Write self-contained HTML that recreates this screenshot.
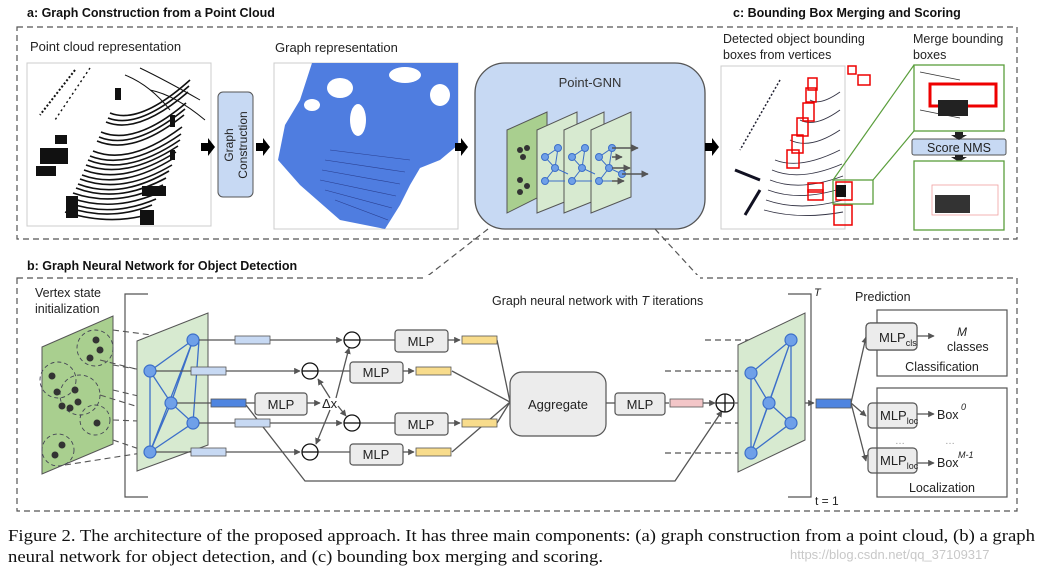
<!DOCTYPE html>
<html><head><meta charset="utf-8"><style>
html,body{margin:0;padding:0;background:#fff;}
svg{display:block;font-family:"Liberation Sans",Arial,sans-serif;}
</style></head><body>
<svg width="1041" height="574" viewBox="0 0 1041 574" xmlns="http://www.w3.org/2000/svg">
<defs>
<marker id="ah" viewBox="0 0 10 10" refX="9" refY="5" markerWidth="5" markerHeight="5" orient="auto"><path d="M0,0 L10,5 L0,10 z" fill="#555"/></marker>
</defs>
<!-- titles -->
<text x="27" y="17" font-size="12.5" font-weight="bold" fill="#111">a: Graph Construction from a Point Cloud</text>
<text x="733" y="17" font-size="12.5" font-weight="bold" fill="#111">c: Bounding Box Merging and Scoring</text>
<text x="27" y="270" font-size="12.5" font-weight="bold" fill="#111">b: Graph Neural Network for Object Detection</text>
<!-- top dashed box -->
<rect x="17" y="27" width="1000" height="212" fill="none" stroke="#555" stroke-width="1.2" stroke-dasharray="6,4"/>
<!-- bottom dashed box -->
<rect x="17" y="278" width="1000" height="233" fill="none" stroke="#555" stroke-width="1.2" stroke-dasharray="6,4"/>
<line x1="488" y1="229" x2="425" y2="278" stroke="#555" stroke-width="1.2" stroke-dasharray="6,4"/>
<line x1="655" y1="229" x2="700" y2="278" stroke="#555" stroke-width="1.2" stroke-dasharray="6,4"/>
<rect x="425" y="275" width="275" height="6" fill="#fff"/>

<!-- point cloud -->
<text x="30" y="51" font-size="13" fill="#222">Point cloud representation</text>
<rect x="27" y="63" width="184" height="163" fill="#fff" stroke="#ccc"/>
<g fill="none" stroke="#111" stroke-width="1.6">
<path d="M110,113 Q140,125 190,80"/><path d="M108,118 Q139,130 189,86"/><path d="M106,122 Q138,135 188,92"/><path d="M101,132 Q135,146 186,103"/>
<path d="M99,137 Q134,151 185,109"/><path d="M97,141 Q133,156 184,115"/><path d="M93,151 Q130,166 182,127"/><path d="M90,156 Q128,171 181,134"/><path d="M88,160 Q127,176 180,140"/>
<path d="M86,165 Q126,180 178,146"/><path d="M84,170 Q124,185 176,152"/><path d="M82,175 Q123,190 174,158"/><path d="M80,179 Q122,195 172,165"/><path d="M78,184 Q120,200 169,171"/><path d="M76,188 Q118,204 166,178"/>
<path d="M73,193 Q116,208 163,185"/><path d="M71,198 Q114,213 160,192"/><path d="M69,203 Q112,218 156,199"/><path d="M67,207 Q110,222 152,205"/><path d="M65,212 Q110,226 150,214"/>
<path d="M125,75 Q150,85 170,110" stroke-width="1"/><path d="M140,68 Q165,80 200,100" stroke-width="1"/><path d="M150,90 Q175,95 205,120" stroke-width="1"/>
<path d="M75,70 L40,115" stroke-width="2" stroke-dasharray="2,2"/><path d="M90,68 L55,120" stroke-width="1.4" stroke-dasharray="2,3"/>
</g>
<g fill="#111"><rect x="40" y="148" width="28" height="16"/><rect x="55" y="135" width="12" height="9"/><rect x="142" y="186" width="24" height="10"/><rect x="140" y="210" width="14" height="15"/><rect x="66" y="196" width="12" height="22"/><rect x="115" y="88" width="6" height="12"/><rect x="170" y="115" width="5" height="12"/><rect x="170" y="150" width="5" height="10"/><rect x="36" y="166" width="20" height="10"/></g>

<!-- graph construction -->
<rect x="218" y="92" width="35" height="105" rx="5" fill="#c7d9f3" stroke="#555"/>
<text transform="translate(233,145) rotate(-90)" font-size="12" text-anchor="middle" fill="#222">Graph</text>
<text transform="translate(247,145) rotate(-90)" font-size="12" text-anchor="middle" fill="#222">Construction</text>

<!-- graph representation -->
<text x="275" y="52" font-size="13" fill="#222">Graph representation</text>
<rect x="274" y="63" width="184" height="166" fill="#fff" stroke="#ccc"/>
<path d="M278,160 L285,125 L300,100 L312,63 L458,63 L458,145 L440,160 L420,168 L410,185 L400,205 L385,229 L340,220 L300,185 Z" fill="#4f7de0"/>
<g fill="#fff"><ellipse cx="340" cy="88" rx="13" ry="10"/><ellipse cx="405" cy="75" rx="16" ry="8"/><ellipse cx="440" cy="95" rx="10" ry="11"/><ellipse cx="358" cy="120" rx="8" ry="16"/><ellipse cx="312" cy="105" rx="8" ry="6"/></g>
<g stroke="#2a3f90" stroke-width="0.6" fill="none"><path d="M330,150 L410,160"/><path d="M325,160 L405,172"/><path d="M322,170 L400,184"/><path d="M320,180 L396,196"/><path d="M325,190 L392,208"/><path d="M335,200 L388,220"/></g>

<!-- Point-GNN -->
<rect x="475" y="63" width="230" height="166" rx="30" fill="#c7d9f3" stroke="#555" stroke-width="1.3"/>
<text x="590" y="87" font-size="13" text-anchor="middle" fill="#333">Point-GNN</text>
<polygon points="507,130 547,112 547,193 507,213" fill="#a9cf8f" stroke="#555"/>
<g fill="#333"><circle cx="520" cy="150" r="3"/><circle cx="527" cy="148" r="3"/><circle cx="523" cy="157" r="3"/><circle cx="520" cy="180" r="3"/><circle cx="527" cy="186" r="3"/><circle cx="520" cy="192" r="3"/></g>
<polygon points="537,130 577,112 577,197 537,213" fill="#d7ead0" stroke="#555"/>
<polygon points="564,130 604,112 604,197 564,213" fill="#d7ead0" stroke="#555"/>
<polygon points="591,130 631,112 631,197 591,213" fill="#d7ead0" stroke="#555"/>
<g stroke="#3c6fc9" stroke-width="1" fill="none">
<path d="M558,148 L545,157 L555,168 L545,181 L565,181 M558,148 L555,168 L568,174"/>
<path d="M585,148 L572,157 L582,168 L572,181 L592,181 M585,148 L582,168 L595,174"/>
<path d="M612,148 L599,157 L609,168 L599,181 L619,181 M612,148 L609,168 L622,174"/>
</g>
<g fill="#6fa0e8" stroke="#3c6fc9"><circle cx="558" cy="148" r="3.5"/><circle cx="545" cy="157" r="3.5"/><circle cx="555" cy="168" r="3.5"/><circle cx="545" cy="181" r="3.5"/>
<circle cx="585" cy="148" r="3.5"/><circle cx="572" cy="157" r="3.5"/><circle cx="582" cy="168" r="3.5"/><circle cx="572" cy="181" r="3.5"/>
<circle cx="612" cy="148" r="3.5"/><circle cx="599" cy="157" r="3.5"/><circle cx="609" cy="168" r="3.5"/><circle cx="599" cy="181" r="3.5"/><circle cx="622" cy="174" r="3.5"/></g>
<g stroke="#555" stroke-width="1.5" marker-end="url(#ah)"><line x1="612" y1="148" x2="638" y2="148"/><line x1="612" y1="157" x2="622" y2="157"/><line x1="612" y1="168" x2="630" y2="168"/><line x1="622" y1="174" x2="648" y2="174"/><line x1="612" y1="181" x2="624" y2="181"/></g>

<!-- detected -->
<text x="723" y="43" font-size="12.5" fill="#222">Detected object bounding</text>
<text x="723" y="59" font-size="12.5" fill="#222">boxes from vertices</text>
<rect x="721" y="66" width="124" height="163" fill="#fff" stroke="#ccc"/>
<g fill="none" stroke="#334" stroke-width="0.9">
<path d="M775,160 Q800,170 840,150"/><path d="M772,170 Q800,182 842,164"/><path d="M770,180 Q800,192 843,176"/><path d="M768,190 Q800,202 843,188"/><path d="M766,200 Q800,212 843,200"/><path d="M764,210 Q800,220 843,212"/><path d="M790,140 Q810,150 840,130"/><path d="M800,120 Q815,128 840,110"/><path d="M810,100 Q820,106 840,92"/>
<path d="M780,80 L740,150" stroke-dasharray="2,2" stroke="#223" stroke-width="1.5"/><path d="M760,190 L745,215" stroke-width="3" stroke="#112"/><path d="M735,170 L760,180" stroke-width="3" stroke="#112"/></g>
<g fill="none" stroke="#e00" stroke-width="1.5"><rect x="787" y="150" width="12" height="18"/><rect x="792" y="135" width="11" height="18"/><rect x="797" y="118" width="11" height="18"/><rect x="803" y="103" width="11" height="18"/><rect x="806" y="88" width="10" height="14"/><rect x="808" y="78" width="9" height="12"/><rect x="808" y="183" width="15" height="9"/><rect x="808" y="190" width="15" height="10"/><rect x="836" y="182" width="16" height="18"/><rect x="834" y="205" width="18" height="20"/><rect x="848" y="66" width="8" height="8"/><rect x="858" y="75" width="12" height="10"/></g>
<rect x="836" y="185" width="10" height="12" fill="#111"/>
<rect x="833" y="180" width="40" height="24" fill="none" stroke="#5a9e3c" stroke-width="1.3"/>
<line x1="833" y1="180" x2="914" y2="65" stroke="#5a9e3c" stroke-width="1.2"/>
<line x1="873" y1="180" x2="914" y2="131" stroke="#5a9e3c" stroke-width="1.2"/>
<!-- merge -->
<text x="913" y="43" font-size="12.5" fill="#222">Merge bounding</text>
<text x="913" y="59" font-size="12.5" fill="#222">boxes</text>
<rect x="914" y="65" width="90" height="66" fill="#fff" stroke="#5a9e3c" stroke-width="1.3"/>
<g fill="none" stroke="#333" stroke-width="0.8"><path d="M920,72 L960,80"/><path d="M920,110 L960,118"/><path d="M918,170 L950,178"/><path d="M918,180 L960,190"/><path d="M918,215 L950,222"/></g>
<rect x="930" y="84" width="66" height="22" fill="none" stroke="#e00" stroke-width="3"/>
<rect x="938" y="100" width="30" height="16" fill="#222"/>
<rect x="912" y="139" width="94" height="16" rx="2" fill="#c7d9f3" stroke="#555"/>
<text x="959" y="152" font-size="12.5" text-anchor="middle" fill="#222">Score NMS</text>
<path d="M955,132 h8 v3 h4 l-8,5 l-8,-5 h4z" fill="#222"/>
<path d="M955,155 h8 v2 h4 l-8,5 l-8,-5 h4z" fill="#222"/>
<rect x="914" y="161" width="90" height="69" fill="#fff" stroke="#5a9e3c" stroke-width="1.3"/>
<rect x="932" y="185" width="66" height="30" fill="none" stroke="#f0a0a0" stroke-width="0.8"/>
<rect x="935" y="195" width="35" height="18" fill="#333"/>

<!-- black arrows -->
<g fill="#000">
<path d="M201,143 h7 v-5 l7,9 l-7,9 v-5 h-7z"/>
<path d="M256,143 h7 v-5 l7,9 l-7,9 v-5 h-7z"/>
<path d="M455,143 h6 v-5 l7,9 l-7,9 v-5 h-6z"/>
<path d="M705,143 h7 v-5 l7,9 l-7,9 v-5 h-7z"/>
</g>

<!-- bottom section -->
<text x="35" y="297" font-size="12.5" fill="#222">Vertex state</text>
<text x="35" y="313" font-size="12.5" fill="#222">initialization</text>
<polygon points="42,347 113,316 113,444 42,474" fill="#a9cf8f" stroke="#555"/>
<g fill="none" stroke="#445" stroke-dasharray="4,3" stroke-width="0.9"><circle cx="95" cy="348" r="18"/><circle cx="58" cy="380" r="18"/><circle cx="80" cy="395" r="20"/><circle cx="95" cy="420" r="15"/><circle cx="58" cy="450" r="16"/></g>
<g fill="#333"><circle cx="96" cy="340" r="3.5"/><circle cx="100" cy="350" r="3.5"/><circle cx="90" cy="358" r="3.5"/><circle cx="52" cy="376" r="3.5"/><circle cx="57" cy="392" r="3.5"/><circle cx="75" cy="390" r="3.5"/><circle cx="62" cy="406" r="3.5"/><circle cx="70" cy="408" r="3.5"/><circle cx="78" cy="402" r="3.5"/><circle cx="97" cy="423" r="3.5"/><circle cx="62" cy="445" r="3.5"/><circle cx="55" cy="455" r="3.5"/></g>
<g stroke="#555" stroke-dasharray="6,4" stroke-width="1.1"><line x1="113" y1="330" x2="190" y2="340"/><line x1="113" y1="365" x2="148" y2="371"/><line x1="113" y1="390" x2="168" y2="403"/><line x1="113" y1="420" x2="190" y2="423"/><line x1="113" y1="440" x2="148" y2="452"/><line x1="100" y1="360" x2="148" y2="372"/><line x1="100" y1="395" x2="190" y2="423"/><line x1="65" y1="465" x2="148" y2="452"/></g>
<path d="M148,294 h-23 v203 h23" fill="none" stroke="#555" stroke-width="1.2"/>
<polygon points="137,341 208,313 208,445 137,471" fill="#d7ead0" stroke="#555"/>
<g stroke="#3c6fc9" stroke-width="1.3" fill="none"><path d="M193,340 L150,371 L150,452 L193,340 M150,371 L171,403 L193,423 L150,452 M193,340 L171,403 M171,403 L150,452 M193,340 L199,340 L193,423"/></g>
<g fill="#6fa0e8" stroke="#3c6fc9" stroke-width="1.2"><circle cx="193" cy="340" r="6"/><circle cx="150" cy="371" r="6"/><circle cx="171" cy="403" r="6"/><circle cx="193" cy="423" r="6"/><circle cx="150" cy="452" r="6"/></g>
<!-- lines -->
<g stroke="#555" stroke-width="1.3" fill="none">
<line x1="199" y1="340" x2="342" y2="340" marker-end="url(#ah)"/>
<line x1="156" y1="371" x2="300" y2="371" marker-end="url(#ah)"/>
<line x1="177" y1="403" x2="255" y2="403"/>
<line x1="199" y1="423" x2="342" y2="423" marker-end="url(#ah)"/>
<line x1="156" y1="452" x2="300" y2="452" marker-end="url(#ah)"/>
<line x1="359" y1="340" x2="395" y2="340"/><line x1="317" y1="371" x2="350" y2="371"/><line x1="359" y1="423" x2="395" y2="423"/><line x1="317" y1="452" x2="350" y2="452"/>
<line x1="307" y1="403" x2="320" y2="403" marker-end="url(#ah)"/>
<line x1="448" y1="340" x2="460" y2="340" marker-end="url(#ah)"/><line x1="403" y1="371" x2="414" y2="371" marker-end="url(#ah)"/><line x1="448" y1="423" x2="460" y2="423" marker-end="url(#ah)"/><line x1="403" y1="452" x2="414" y2="452" marker-end="url(#ah)"/>
<line x1="336" y1="398" x2="349" y2="348" marker-end="url(#ah)"/><line x1="330" y1="398" x2="318" y2="379" marker-end="url(#ah)"/><line x1="338" y1="406" x2="346" y2="416" marker-end="url(#ah)"/><line x1="330" y1="410" x2="316" y2="444" marker-end="url(#ah)"/>
<line x1="497" y1="340" x2="510" y2="402"/><line x1="452" y1="371" x2="510" y2="402"/><line x1="497" y1="423" x2="510" y2="402"/><line x1="452" y1="452" x2="510" y2="402"/>
<path d="M246,405 L305,481 L675,481 L722,411" marker-end="url(#ah)"/>
<line x1="606" y1="403" x2="615" y2="403"/>
<line x1="665" y1="403" x2="669" y2="403"/>
<line x1="703" y1="403" x2="715" y2="403" marker-end="url(#ah)"/>
<line x1="735" y1="403" x2="763" y2="403" marker-end="url(#ah)"/>
<line x1="775" y1="403" x2="814" y2="403" marker-end="url(#ah)"/>
<line x1="851" y1="403" x2="866" y2="337" marker-end="url(#ah)"/>
<line x1="851" y1="403" x2="866" y2="416" marker-end="url(#ah)"/>
<line x1="851" y1="403" x2="866" y2="461" marker-end="url(#ah)"/>
<line x1="917" y1="336" x2="934" y2="336" marker-end="url(#ah)"/>
<line x1="917" y1="414" x2="934" y2="414" marker-end="url(#ah)"/>
<line x1="917" y1="463" x2="934" y2="463" marker-end="url(#ah)"/>
</g>
<g stroke="#555" stroke-width="1.3" stroke-dasharray="6,4" fill="none">
<line x1="705" y1="340" x2="784" y2="340" marker-end="url(#ah)"/><line x1="665" y1="371" x2="744" y2="371" marker-end="url(#ah)"/><line x1="705" y1="423" x2="784" y2="423" marker-end="url(#ah)"/><line x1="665" y1="453" x2="744" y2="453" marker-end="url(#ah)"/>
</g>
<!-- bars -->
<g stroke="#555" stroke-width="0.8">
<rect x="235" y="336" width="35" height="8" fill="#c7d9f3"/><rect x="191" y="367" width="35" height="8" fill="#c7d9f3"/><rect x="211" y="399" width="35" height="8" fill="#4f85e0"/><rect x="235" y="419" width="35" height="8" fill="#c7d9f3"/><rect x="191" y="448" width="35" height="8" fill="#c7d9f3"/>
<rect x="462" y="336" width="35" height="8" fill="#f8dc8c"/><rect x="416" y="367" width="35" height="8" fill="#f8dc8c"/><rect x="462" y="419" width="35" height="8" fill="#f8dc8c"/><rect x="416" y="448" width="35" height="8" fill="#f8dc8c"/>
<rect x="670" y="399" width="33" height="8" fill="#f3c6c8"/><rect x="816" y="399" width="35" height="9" fill="#4f85e0"/>
</g>
<!-- minus circles -->
<g fill="#fff" stroke="#111" stroke-width="1.3"><circle cx="352" cy="340" r="8"/><circle cx="310" cy="371" r="8"/><circle cx="352" cy="423" r="8"/><circle cx="310" cy="452" r="8"/><circle cx="725" cy="403" r="9"/></g>
<g stroke="#111" stroke-width="1.3"><line x1="344" y1="340" x2="360" y2="340"/><line x1="302" y1="371" x2="318" y2="371"/><line x1="344" y1="423" x2="360" y2="423"/><line x1="302" y1="452" x2="318" y2="452"/><line x1="716" y1="403" x2="734" y2="403"/><line x1="725" y1="394" x2="725" y2="412"/></g>
<text x="322" y="408" font-size="13" fill="#222">Δx</text>
<!-- MLP boxes -->
<g fill="#ececec" stroke="#555" stroke-width="1.2"><rect x="395" y="330" width="53" height="22" rx="3"/><rect x="350" y="362" width="53" height="21" rx="3"/><rect x="255" y="393" width="52" height="22" rx="3"/><rect x="395" y="413" width="53" height="22" rx="3"/><rect x="350" y="444" width="53" height="21" rx="3"/><rect x="615" y="393" width="50" height="22" rx="3"/><rect x="510" y="372" width="96" height="64" rx="12"/>
<rect x="866" y="323" width="51" height="27" rx="4"/><rect x="868" y="403" width="49" height="25" rx="4"/><rect x="868" y="448" width="49" height="25" rx="4"/></g>
<g font-size="13" text-anchor="middle" fill="#222"><text x="421" y="346">MLP</text><text x="376" y="377">MLP</text><text x="281" y="409">MLP</text><text x="421" y="429">MLP</text><text x="376" y="459">MLP</text><text x="640" y="409">MLP</text><text x="558" y="409">Aggregate</text></g>
<text x="492" y="305" font-size="12.5" fill="#222">Graph neural network with <tspan font-style="italic">T</tspan> iterations</text>
<!-- right plane -->
<polygon points="738,345 805,313 805,440 738,472" fill="#d7ead0" stroke="#555"/>
<g stroke="#3c6fc9" stroke-width="1.3" fill="none"><path d="M791,340 L751,373 L751,453 L791,340 L791,423 L751,453 M751,373 L769,403 L791,423 M791,340 L769,403 L751,453"/></g>
<g fill="#6fa0e8" stroke="#3c6fc9" stroke-width="1.2"><circle cx="791" cy="340" r="6"/><circle cx="751" cy="373" r="6"/><circle cx="769" cy="403" r="6"/><circle cx="791" cy="423" r="6"/><circle cx="751" cy="453" r="6"/></g>
<path d="M788,294 h23 v203 h-23" fill="none" stroke="#555" stroke-width="1.2"/>
<text x="814" y="296" font-size="11" font-style="italic" fill="#222">T</text>
<text x="815" y="505" font-size="12" fill="#222">t = 1</text>
<!-- prediction -->
<text x="855" y="301" font-size="12.5" fill="#222">Prediction</text>
<rect x="877" y="310" width="130" height="66" fill="none" stroke="#555" stroke-width="1.2"/>
<rect x="877" y="388" width="130" height="109" fill="none" stroke="#555" stroke-width="1.2"/>
<rect x="866" y="323" width="51" height="27" rx="4" fill="#ececec" stroke="#555" stroke-width="1.2"/>
<text x="879" y="342" font-size="13" fill="#222">MLP<tspan font-size="9" dy="4">cls</tspan></text>
<text x="880" y="420" font-size="13" fill="#222">MLP<tspan font-size="9" dy="4">loc</tspan></text>
<text x="880" y="465" font-size="13" fill="#222">MLP<tspan font-size="9" dy="4">loc</tspan></text>
<text x="957" y="336" font-size="12" font-style="italic" fill="#222">M</text>
<text x="947" y="351" font-size="12.5" fill="#222">classes</text>
<text x="942" y="371" font-size="12.5" text-anchor="middle" fill="#222">Classification</text>
<text x="937" y="419" font-size="12.5" fill="#222">Box</text><text x="961" y="410" font-size="9" font-style="italic" fill="#222">0</text>
<text x="937" y="467" font-size="12.5" fill="#222">Box</text><text x="958" y="458" font-size="9" font-style="italic" fill="#222">M-1</text>
<text x="895" y="444" font-size="10" fill="#999">…</text><text x="945" y="444" font-size="10" fill="#999">…</text>
<text x="942" y="492" font-size="12.5" text-anchor="middle" fill="#222">Localization</text>
<!-- caption -->
<text x="8" y="541" font-family="Liberation Serif,serif" font-size="16.5" fill="#111" textLength="1027" lengthAdjust="spacingAndGlyphs">Figure 2. The architecture of the proposed approach. It has three main components: (a) graph construction from a point cloud, (b) a graph</text>
<text x="8" y="562" font-family="Liberation Serif,serif" font-size="16.5" fill="#111" textLength="595" lengthAdjust="spacingAndGlyphs">neural network for object detection, and (c) bounding box merging and scoring.</text>
<text x="790" y="559" font-size="13" fill="#c8c8c8">https://blog.csdn.net/qq_37109317</text>
</svg>
</body></html>
